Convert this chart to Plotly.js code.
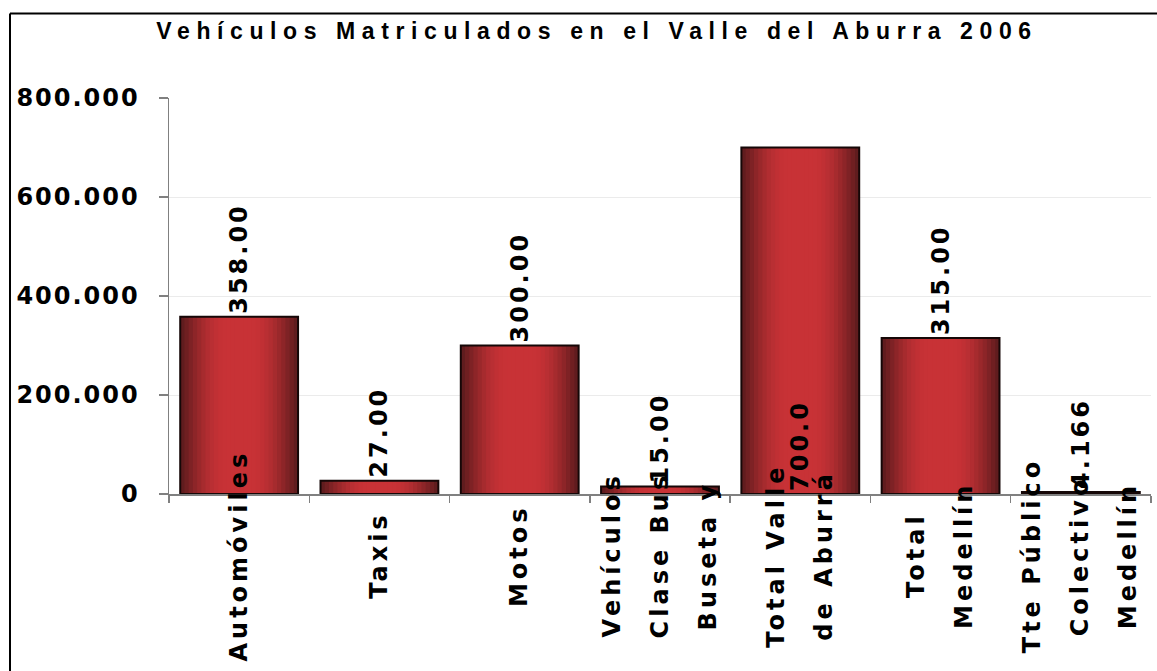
<!DOCTYPE html>
<html><head><meta charset="utf-8">
<script src="https://cdn.plot.ly/plotly-3.0.1.min.js"></script>
<style>
html,body{margin:0;padding:0;background:#fff;}
#chart{width:1157px;height:671px;}
.gtitle{letter-spacing:6.6px;}
.ytick text{letter-spacing:2px;}
.bartext{letter-spacing:3px;}
.annotation-text{letter-spacing:4px;}
</style></head><body><div id="chart"></div>
<script>
const categories = ["Automóviles", "Taxis", "Motos", "Vehículos Clase Bus Buseta y", "Total Valle de Aburrá", "Total Medellín", "Tte Público Colectivo Medellín"];
const values = [358000, 27000, 300000, 15000, 700000, 315000, 4166];
const valueLabels = ["358.00", "27.00", "300.00", "15.00", "700.0", "315.00", "4.166"];
const labelLines = [["Automóviles"], ["Taxis"], ["Motos"], ["Vehículos", "Clase Bus", "Buseta y"], ["Total Valle", "de Aburrá"], ["Total", "Medellín"], ["Tte Público", "Colectivo", "Medellín"]];
const yTicks = [0, 200000, 400000, 600000, 800000];

const N = 14, fullW = 0.84;
const edge = [88, 26, 28], mid = [200, 50, 54];
const traces = [];
for (let i = 0; i < N; i++) {
  const t = (i + 0.5) / N;
  const f = Math.sin(Math.PI / 2 * Math.min(1, t * 1.25));
  const c = edge.map((e, k) => Math.round(e + (mid[k] - e) * f));
  traces.push({type: 'bar', x: categories, y: values, width: fullW * (1 - i / N),
    marker: {color: 'rgb(' + c.join(',') + ')', line: {width: 0}}, hoverinfo: 'skip', showlegend: false});
}
const maxV = Math.max(...values);
const labelFont = {family: 'DejaVu Sans', size: 24, color: '#000', weight: 'bold'};
traces.push({type: 'bar', x: categories, y: values, width: fullW,
  marker: {color: 'rgba(0,0,0,0)', line: {color: '#150707', width: 2}},
  text: valueLabels, textposition: values.map(v => v === maxV ? 'inside' : 'outside'),
  insidetextanchor: 'start', textangle: -90, constraintext: 'none', cliponaxis: false,
  textfont: labelFont, insidetextfont: labelFont, outsidetextfont: labelFont,
  hoverinfo: 'skip', showlegend: false});

const annotations = [];
categories.forEach((c, i) => {
  const lines = labelLines[i];
  lines.forEach((ln, j) => {
    annotations.push({x: c, xref: 'x', y: -0.155, yref: 'paper', text: ln, showarrow: false,
      textangle: -90, xanchor: 'center', yanchor: 'middle', xshift: (j - (lines.length - 1) / 2) * 48,
      font: {family: 'DejaVu Sans', size: 24, color: '#000', weight: 'bold'}});
  });
});

const px = (x) => (x - 169) / 982, py = (y) => (494 - y) / 396;
const layout = {
  width: 1157, height: 671,
  margin: {l: 169, r: 6, t: 98, b: 177},
  paper_bgcolor: '#fff', plot_bgcolor: '#fff',
  separators: ',.',
  barmode: 'overlay',
  showlegend: false,
  title: {text: 'Vehículos Matriculados en el Valle del Aburra 2006', xref: 'container', x: 0.516,
    yref: 'container', y: 0.954, xanchor: 'center', yanchor: 'middle',
    font: {family: 'Liberation Sans', size: 23, color: '#000', weight: 'bold'}},
  xaxis: {type: 'category', showticklabels: false, showgrid: false, tickson: 'boundaries',
    ticks: 'outside', ticklen: 7, tickcolor: '#808080', tickwidth: 1.5,
    showline: true, linecolor: '#808080', linewidth: 2, zeroline: false, range: [-0.5, 6.5]},
  yaxis: {range: [0, 800000], tickvals: yTicks, tickformat: ',d', ticks: 'outside', ticklen: 9,
    tickcolor: '#808080', tickwidth: 1.5, showline: true, linecolor: '#808080', linewidth: 1.5,
    showgrid: true, gridcolor: '#ebebeb', gridwidth: 1, zeroline: false, ticklabelstandoff: 14,
    tickfont: {family: 'DejaVu Sans', size: 24, color: '#000', weight: 'bold'}},
  annotations: annotations,
  shapes: [
    {type: 'line', xref: 'paper', yref: 'paper', x0: px(10), x1: px(10), y0: py(700), y1: py(13.5), line: {color: '#000', width: 2}},
    {type: 'line', xref: 'paper', yref: 'paper', x0: px(10), x1: px(1170), y0: py(13.5), y1: py(13.5), line: {color: '#000', width: 2}}
  ]
};
Plotly.newPlot('chart', traces, layout, {displayModeBar: false, staticPlot: true});
</script></body></html>
